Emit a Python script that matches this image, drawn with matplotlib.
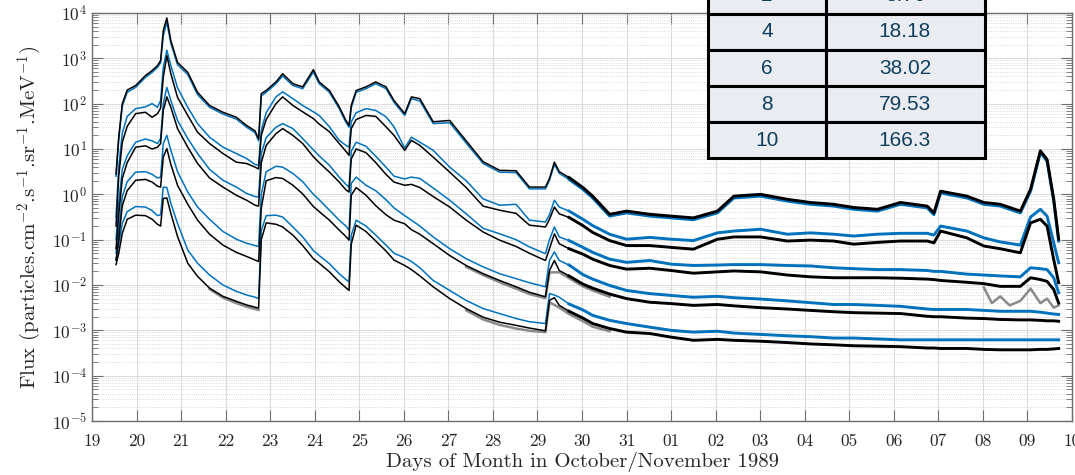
import numpy as np
import matplotlib
matplotlib.use('Agg')
import matplotlib.pyplot as plt
import matplotlib.dates as mdates
from matplotlib.patches import Rectangle
from matplotlib.ticker import LogLocator, NullFormatter
from datetime import datetime, timedelta

plt.rcParams['font.family'] = 'cmr10'
plt.rcParams['mathtext.fontset'] = 'cm'
plt.rcParams['axes.formatter.use_mathtext'] = True

# sample times, fractional day counted from 1 Oct 1989 (1 Nov = 32)
day = [19.54, 19.60, 19.68, 19.79, 19.98, 20.20, 20.35, 20.47, 20.54, 20.60,
       20.68, 20.77, 20.92, 21.15, 21.37, 21.64, 21.94, 22.24, 22.47, 22.66,
       22.74, 22.80, 22.91, 23.13, 23.28, 23.51, 23.73, 23.97, 24.10, 24.33,
       24.55, 24.70, 24.77, 24.82, 24.93, 25.15, 25.37, 25.60, 25.78, 26.02,
       26.17, 26.36, 26.66, 27.03, 27.40, 27.78, 28.15, 28.52, 28.82, 29.18,
       29.27, 29.38, 29.49, 29.71, 30.02, 30.24, 30.62, 31.00, 31.52, 32.00,
       32.50, 33.04, 33.41, 34.01, 34.61, 35.13, 35.65, 36.10, 36.63, 37.15,
       37.75, 37.90, 38.05, 38.64, 39.02, 39.39, 39.84, 40.07, 40.29, 40.44,
       40.59, 40.70]

# log10 flux, black traces
black_ch2 = [0.45, 1.26, 2.00, 2.30, 2.40, 2.62, 2.73, 2.84, 2.95, 3.61,
             3.89, 3.39, 2.91, 2.69, 2.25, 1.96, 1.81, 1.70, 1.52, 1.40,
             1.22, 2.22, 2.29, 2.48, 2.66, 2.44, 2.37, 2.75, 2.48, 2.29,
             1.93, 1.63, 1.52, 1.96, 2.29, 2.37, 2.48, 2.37, 2.07, 1.78,
             2.15, 2.11, 1.60, 1.63, 1.18, 0.72, 0.53, 0.52, 0.16, 0.16,
             0.35, 0.71, 0.50, 0.37, 0.15, -0.04, -0.44, -0.37, -0.44, -0.48,
             -0.52, -0.37, -0.04, 0.00, -0.11, -0.18, -0.22, -0.29, -0.33, -0.18,
             -0.26, -0.41, 0.07, -0.04, -0.18, -0.22, -0.37, 0.11, 0.96, 0.77,
             -0.11, -0.99]
black_ch4 = [-0.70, 0.40, 1.15, 1.50, 1.78, 1.81, 1.70, 1.78, 1.90, 2.58,
             3.06, 2.66, 2.14, 1.74, 1.37, 1.12, 0.90, 0.71, 0.68, 0.60,
             0.56, 1.30, 1.65, 2.00, 2.15, 1.96, 1.82, 1.67, 1.55, 1.38,
             1.12, 0.95, 0.86, 1.45, 1.65, 1.74, 1.72, 1.49, 1.30, 0.97,
             1.19, 1.08, 0.82, 0.49, 0.15, -0.26, -0.35, -0.42, -0.68, -0.72,
             -0.55, -0.28, -0.43, -0.51, -0.69, -0.84, -1.02, -1.13, -1.13, -1.17,
             -1.21, -0.99, -0.94, -0.94, -1.03, -1.01, -1.03, -1.10, -1.06, -1.03,
             -1.03, -1.07, -0.81, -0.96, -1.14, -1.20, -1.29, -0.63, -0.55, -0.70,
             -1.44, -1.95]
black_ch6 = [-1.20, -0.45, 0.35, 0.70, 1.04, 1.07, 1.00, 1.04, 1.12, 1.85,
             2.15, 1.92, 1.45, 1.04, 0.68, 0.36, 0.16, -0.02, -0.13, -0.24,
             -0.26, 0.70, 1.08, 1.34, 1.45, 1.30, 1.12, 0.83, 0.70, 0.49,
             0.27, 0.10, 0.05, 0.78, 1.00, 0.92, 0.70, 0.44, 0.27, 0.20,
             0.22, 0.15, -0.05, -0.28, -0.57, -0.83, -1.01, -1.15, -1.30, -1.46,
             -1.20, -0.87, -1.09, -1.20, -1.32, -1.43, -1.57, -1.65, -1.63, -1.68,
             -1.74, -1.71, -1.69, -1.71, -1.78, -1.82, -1.84, -1.84, -1.84, -1.85,
             -1.87, -1.88, -1.90, -1.94, -1.97, -2.03, -2.03, -1.84, -1.88, -1.92,
             -2.10, -2.40]
black_ch8 = [-1.45, -1.00, -0.25, 0.08, 0.31, 0.33, 0.27, 0.18, 0.16, 0.82,
             1.01, 0.66, 0.20, -0.22, -0.57, -0.88, -1.12, -1.28, -1.37, -1.45,
             -1.48, -0.30, 0.30, 0.37, 0.35, 0.20, 0.01, -0.27, -0.38, -0.57,
             -0.79, -0.93, -1.01, -0.02, 0.15, -0.02, -0.25, -0.45, -0.57, -0.65,
             -0.78, -0.88, -1.09, -1.35, -1.57, -1.75, -1.90, -2.04, -2.16, -2.26,
             -1.68, -1.46, -1.68, -1.80, -1.98, -2.07, -2.20, -2.30, -2.38, -2.41,
             -2.45, -2.43, -2.46, -2.50, -2.53, -2.56, -2.59, -2.61, -2.62, -2.63,
             -2.69, -2.70, -2.70, -2.73, -2.74, -2.76, -2.77, -2.77, -2.78, -2.79,
             -2.79, -2.80]
black_ch10 = [-1.55, -1.30, -0.86, -0.55, -0.46, -0.47, -0.55, -0.66, -0.70, -0.09,
              -0.08, -0.42, -0.93, -1.52, -1.81, -2.07, -2.25, -2.36, -2.44, -2.49,
              -2.51, -1.00, -0.63, -0.66, -0.72, -0.90, -1.13, -1.42, -1.52, -1.71,
              -1.93, -2.06, -2.12, -1.10, -0.68, -0.82, -1.03, -1.25, -1.45, -1.57,
              -1.66, -1.80, -2.04, -2.30, -2.52, -2.71, -2.82, -2.89, -2.95, -3.01,
              -2.34, -2.28, -2.45, -2.58, -2.73, -2.85, -2.96, -3.04, -3.07, -3.15,
              -3.22, -3.20, -3.22, -3.24, -3.27, -3.30, -3.32, -3.34, -3.35, -3.36,
              -3.39, -3.39, -3.40, -3.40, -3.42, -3.43, -3.43, -3.43, -3.42, -3.42,
              -3.41, -3.40]

# log10 flux, blue traces
blue_ch2 = [0.40, 1.20, 1.95, 2.25, 2.36, 2.58, 2.69, 2.80, 2.90, 3.50,
            3.80, 3.33, 2.86, 2.64, 2.20, 1.92, 1.77, 1.66, 1.48, 1.36,
            1.18, 2.17, 2.25, 2.44, 2.61, 2.40, 2.33, 2.70, 2.44, 2.25,
            1.89, 1.59, 1.48, 1.91, 2.25, 2.33, 2.44, 2.33, 2.03, 1.74,
            2.11, 2.06, 1.56, 1.58, 1.13, 0.68, 0.49, 0.48, 0.12, 0.12,
            0.31, 0.66, 0.46, 0.33, 0.11, -0.08, -0.48, -0.41, -0.48, -0.52,
            -0.56, -0.41, -0.08, -0.04, -0.15, -0.22, -0.26, -0.33, -0.37, -0.22,
            -0.30, -0.45, 0.03, -0.08, -0.22, -0.26, -0.41, 0.07, 0.92, 0.73,
            -0.15, -1.03]
blue_ch4 = [-0.50, 0.60, 1.35, 1.72, 1.89, 1.93, 2.00, 1.92, 2.07, 2.80,
            3.18, 2.84, 2.35, 1.92, 1.56, 1.26, 1.04, 0.90, 0.79, 0.66,
            0.64, 1.41, 1.80, 2.15, 2.26, 2.11, 1.96, 1.82, 1.74, 1.49,
            1.19, 1.08, 1.04, 1.60, 1.80, 1.89, 1.85, 1.71, 1.49, 1.02,
            1.26, 1.15, 0.97, 0.60, 0.30, -0.10, -0.24, -0.22, -0.57, -0.61,
            -0.45, -0.13, -0.28, -0.37, -0.55, -0.69, -0.88, -0.99, -0.95, -0.99,
            -1.02, -0.85, -0.81, -0.77, -0.88, -0.85, -0.88, -0.92, -0.88, -0.86,
            -0.86, -0.90, -0.70, -0.81, -0.96, -1.05, -1.12, -0.50, -0.33, -0.48,
            -1.07, -1.51]
blue_ch6 = [-1.00, -0.20, 0.55, 0.85, 1.15, 1.22, 1.18, 1.12, 1.23, 2.00,
            2.36, 2.07, 1.63, 1.23, 0.90, 0.55, 0.31, 0.16, 0.02, -0.05,
            -0.06, 0.90, 1.25, 1.48, 1.56, 1.45, 1.23, 0.98, 0.85, 0.64,
            0.38, 0.22, 0.16, 0.95, 1.15, 1.06, 0.84, 0.60, 0.40, 0.34,
            0.38, 0.35, 0.14, -0.13, -0.43, -0.75, -0.87, -1.00, -1.16, -1.31,
            -1.00, -0.72, -0.94, -1.02, -1.17, -1.28, -1.43, -1.50, -1.46, -1.54,
            -1.57, -1.56, -1.55, -1.55, -1.57, -1.58, -1.62, -1.64, -1.66, -1.66,
            -1.68, -1.70, -1.70, -1.76, -1.78, -1.80, -1.82, -1.62, -1.64, -1.66,
            -1.84, -2.17]
blue_ch8 = [-1.30, -0.80, -0.05, 0.28, 0.49, 0.50, 0.44, 0.36, 0.38, 1.12,
            1.30, 0.97, 0.50, 0.05, -0.28, -0.55, -0.82, -0.99, -1.08, -1.13,
            -1.15, 0.00, 0.50, 0.62, 0.60, 0.46, 0.28, 0.00, -0.12, -0.35,
            -0.57, -0.70, -0.79, 0.24, 0.38, 0.20, 0.08, -0.12, -0.30, -0.47,
            -0.57, -0.70, -0.94, -1.20, -1.42, -1.60, -1.75, -1.86, -1.95, -2.04,
            -1.46, -1.27, -1.46, -1.56, -1.77, -1.87, -2.01, -2.12, -2.19, -2.23,
            -2.27, -2.25, -2.28, -2.31, -2.35, -2.39, -2.43, -2.43, -2.45, -2.47,
            -2.53, -2.54, -2.54, -2.54, -2.56, -2.58, -2.58, -2.58, -2.60, -2.62,
            -2.64, -2.65]
blue_ch10 = [-1.45, -1.10, -0.64, -0.38, -0.27, -0.28, -0.36, -0.47, -0.45, 0.16,
             0.15, -0.20, -0.64, -1.23, -1.52, -1.78, -2.00, -2.14, -2.22, -2.27,
             -2.30, -0.80, -0.47, -0.46, -0.50, -0.72, -0.94, -1.24, -1.35, -1.53,
             -1.75, -1.88, -1.93, -0.90, -0.57, -0.70, -0.90, -1.12, -1.30, -1.40,
             -1.48, -1.62, -1.90, -2.12, -2.34, -2.52, -2.63, -2.74, -2.81, -2.85,
             -2.19, -2.22, -2.27, -2.42, -2.55, -2.67, -2.78, -2.85, -2.93, -3.00,
             -3.04, -3.02, -3.06, -3.09, -3.12, -3.14, -3.17, -3.17, -3.19, -3.21,
             -3.21, -3.21, -3.21, -3.21, -3.21, -3.21, -3.21, -3.21, -3.21, -3.21,
             -3.21, -3.21]

# grey traces, only where they show below the black ones
grey_day_ch10 = [21.64, 21.94, 22.24, 22.47, 22.66, 22.74]
grey_ch10 = [-2.09, -2.28, -2.40, -2.48, -2.53, -2.55]
grey_day_ch10b = [27.40, 27.78, 28.15, 28.52, 28.82, 29.18, 29.27, 29.49, 29.71, 30.02, 30.24, 30.62]
grey_ch10b = [-2.56, -2.76, -2.88, -2.96, -3.01, -3.04, -2.38, -2.50, -2.64, -2.80, -2.92, -3.02]
grey_day_ch8 = [27.40, 27.78, 28.15, 28.52, 28.82, 29.18, 29.27, 29.49, 29.71, 30.02, 30.24, 30.62]
grey_ch8 = [-1.60, -1.78, -1.94, -2.08, -2.20, -2.29, -1.72, -1.72, -1.85, -2.03, -2.12, -2.26]
grey_day_ch6 = [39.02, 39.20, 39.39, 39.60, 39.84, 40.07, 40.29, 40.44, 40.59, 40.70]
grey_ch6 = [-2.05, -2.40, -2.25, -2.45, -2.35, -2.08, -2.40, -2.30, -2.50, -2.45]

# energy table (channel, MeV)
chan_labels = ['2', '4', '6', '8', '10']
chan_energy = ['8.70', '18.18', '38.02', '79.53', '166.3']

BLUE = '#0072bd'
GREY = '#8a8a8a'
AXC = '#6e6e6e'


def to_time(days):
    return [datetime(1989, 10, 1) + timedelta(days=d - 1) for d in days]


t = to_time(day)
tail = int(np.searchsorted(day, 29.71))

fig = plt.figure(figsize=(10.75, 4.75), dpi=100)
ax = fig.add_axes([92 / 1075, 1 - 421 / 475, 980 / 1075, 408 / 475])

for gd, gv in [(grey_day_ch10, grey_ch10), (grey_day_ch10b, grey_ch10b),
               (grey_day_ch8, grey_ch8), (grey_day_ch6, grey_ch6)]:
    ax.plot(to_time(gd), np.power(10.0, gv), color=GREY, lw=1.8)

blues = [blue_ch2, blue_ch4, blue_ch6, blue_ch8, blue_ch10]
blacks = [black_ch2, black_ch4, black_ch6, black_ch8, black_ch10]
for series, col in [(blues, BLUE), (blacks, 'black')]:
    for vals in series:
        flux = np.power(10.0, vals)
        ax.plot(t, flux, color=col, lw=1.1)
        # the later part of each trace is a noisy band, drawn wider
        ax.plot(t[tail:], flux[tail:], color=col, lw=2.1,
                solid_joinstyle='round')

ax.set_yscale('log')
ax.set_ylim(1e-5, 1e4)
ax.set_xlim(datetime(1989, 10, 19), datetime(1989, 11, 10))
ax.xaxis.set_major_locator(mdates.DayLocator())
ax.xaxis.set_major_formatter(mdates.DateFormatter('%d'))
ax.yaxis.set_major_locator(LogLocator(base=10, numticks=20))
ax.yaxis.set_minor_locator(LogLocator(base=10, subs=np.arange(2, 10), numticks=20))
ax.yaxis.set_minor_formatter(NullFormatter())

ax.grid(True, which='major', color='#dcdcdc', lw=0.8)
ax.grid(True, which='minor', axis='y', color='#d0d0d0', lw=0.6, ls=':')
ax.set_axisbelow(True)
for s in ax.spines.values():
    s.set_color(AXC)
    s.set_linewidth(1.0)
ax.tick_params(which='both', direction='in', top=True, right=True,
               colors=AXC, labelcolor='#262626', labelsize=12.5)
ax.tick_params(which='major', length=8)
ax.tick_params(which='minor', length=4)
ax.tick_params(axis='x', pad=9)

ax.set_xlabel('Days of Month in October/November 1989', fontsize=15,
              color='#262626', labelpad=2)
ax.set_ylabel(r'Flux (particles.cm$^{-2}$.s$^{-1}$.sr$^{-1}$.MeV$^{-1}$)',
              fontsize=15, color='#262626', labelpad=6)

# channel / energy table in the top right corner
tab = fig.add_axes([708 / 1075, 1 - 158 / 475, 277 / 1075, 180 / 475])
tab.set_xlim(0, 277)
tab.set_ylim(0, 5)
tab.axis('off')
for r, (c, e) in enumerate(zip(chan_labels, chan_energy)):
    y0 = 4 - r
    tab.add_patch(Rectangle((0, y0), 118, 1, facecolor='#e9edf1',
                            edgecolor='black', lw=2.2, clip_on=False))
    tab.add_patch(Rectangle((118, y0), 159, 1, facecolor='#e9edf1',
                            edgecolor='black', lw=2.2, clip_on=False))
    tab.text(59, y0 + 0.5, c, ha='center', va='center', fontsize=15,
             color='#123f5e', family='Liberation Sans')
    tab.text(197, y0 + 0.5, e, ha='center', va='center', fontsize=15,
             color='#123f5e', family='Liberation Sans')

fig.savefig('out.png', dpi=100)
